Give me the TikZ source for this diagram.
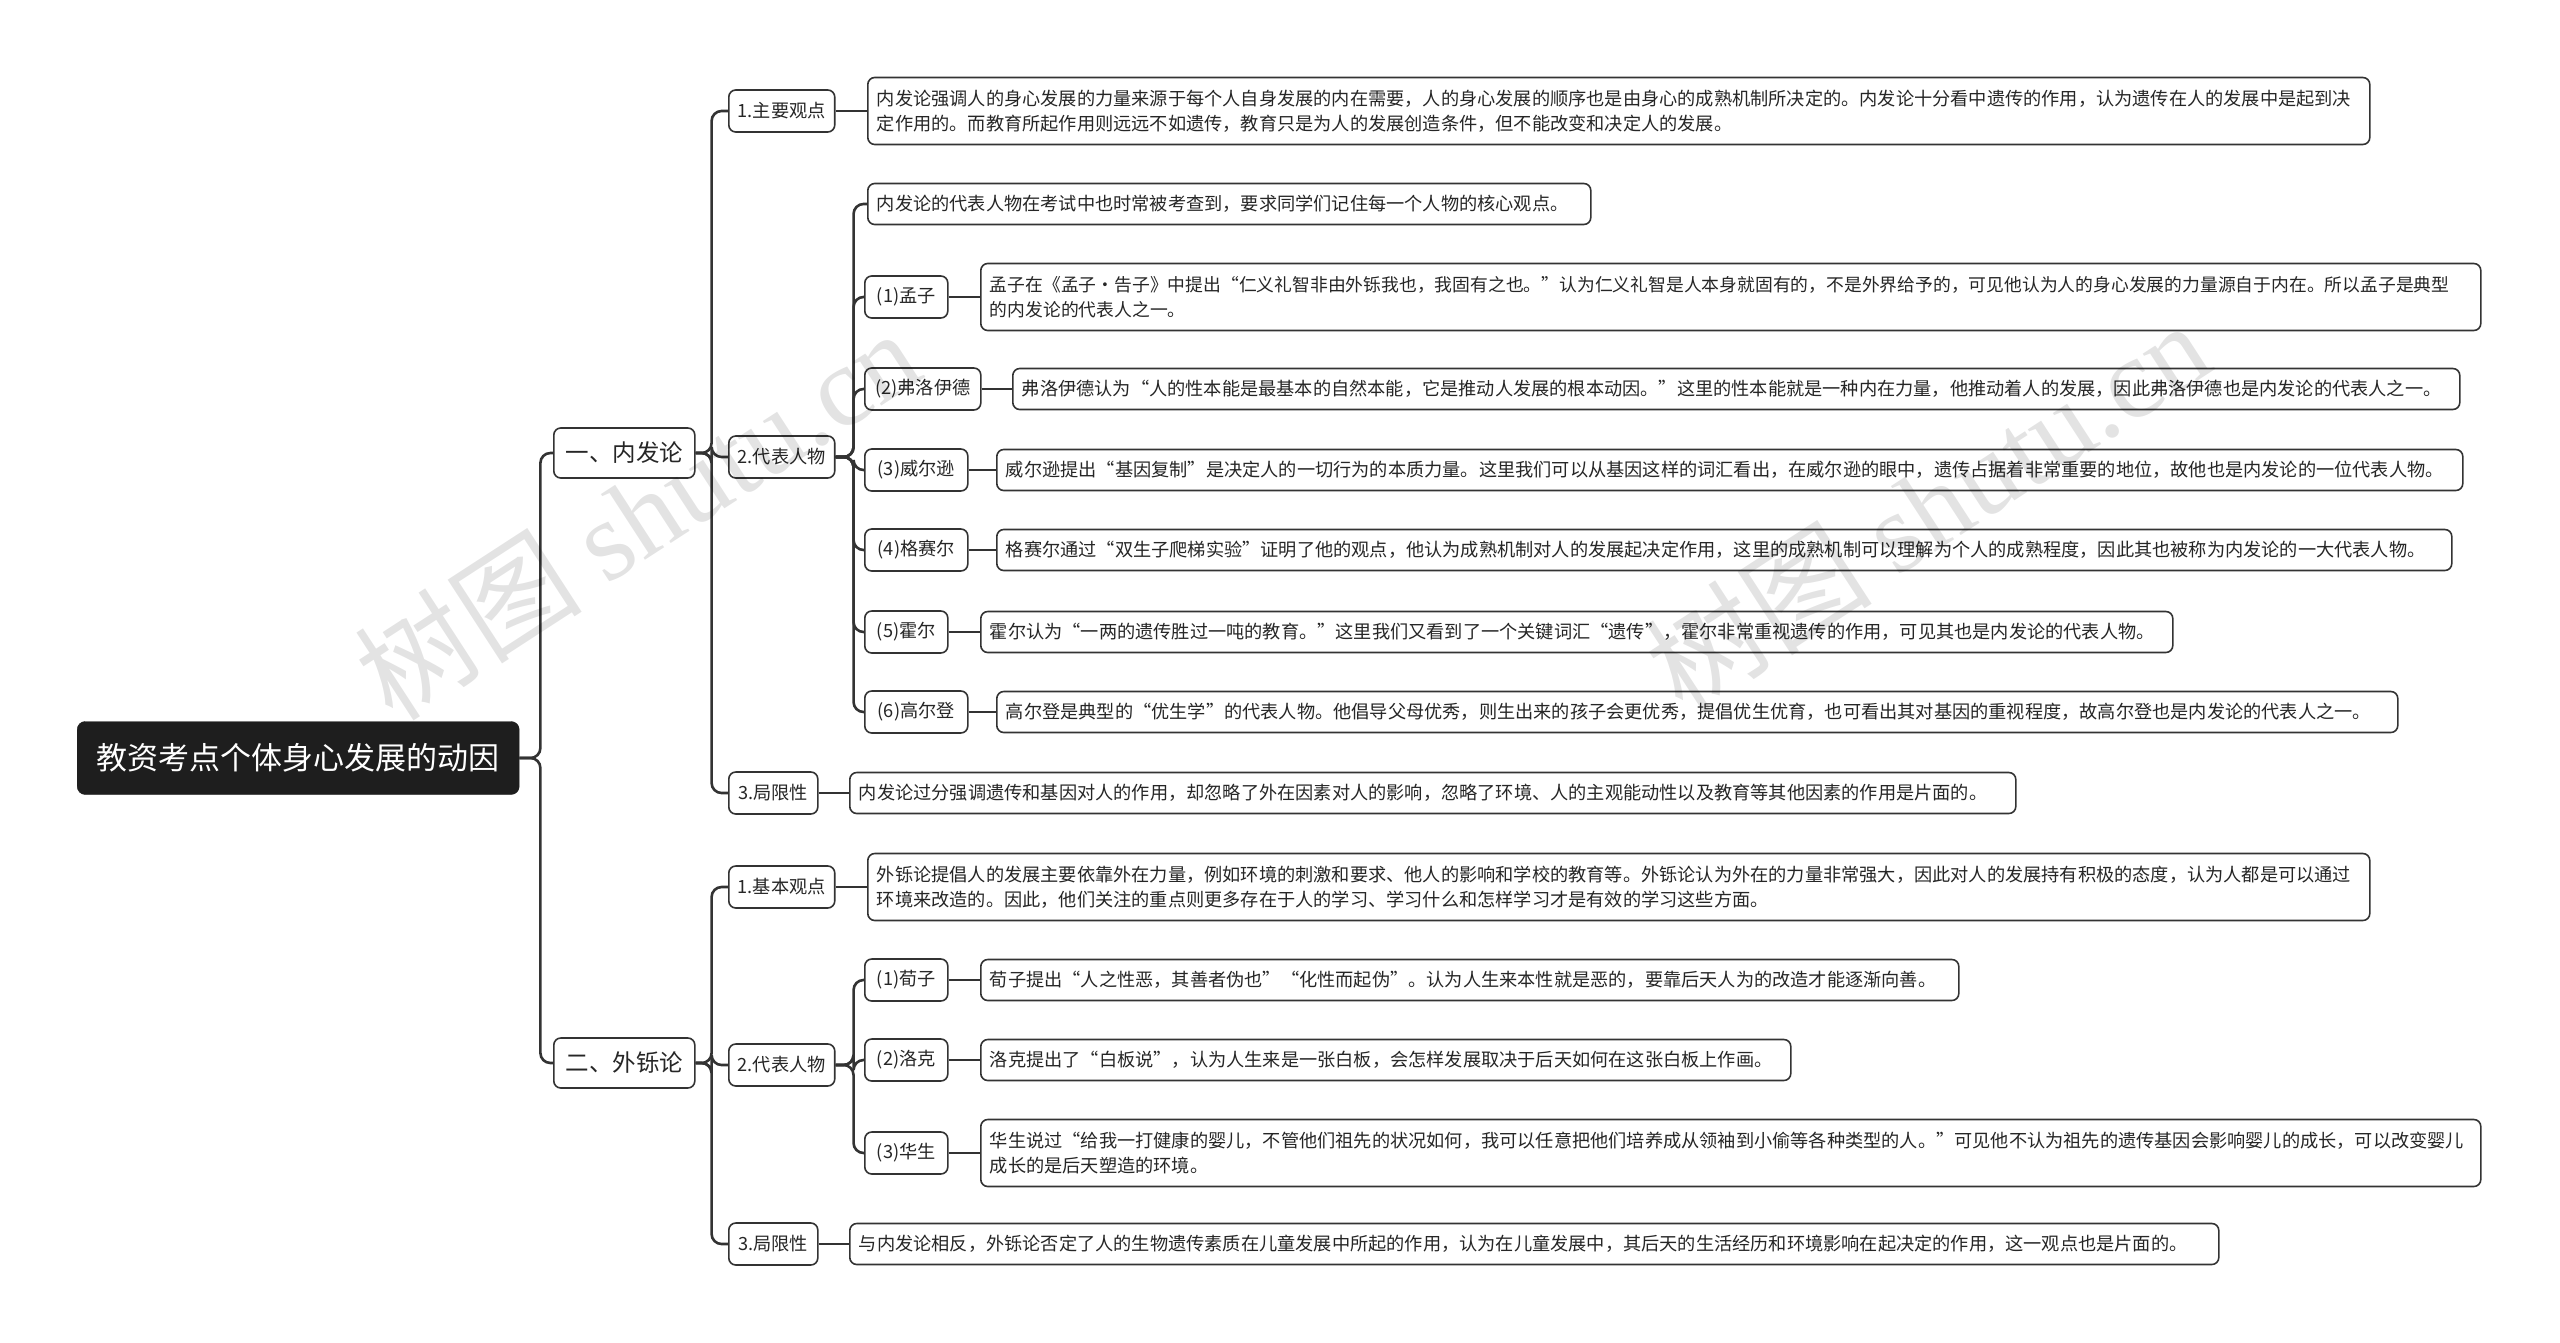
\documentclass[tikz,border=0pt]{standalone}
\usepackage{fontspec}
\setmainfont{Noto Sans CJK SC}
\newfontfamily\wmserif{Liberation Serif}
\definecolor{linec}{HTML}{333333}
\definecolor{rootc}{HTML}{1E1E1E}
\definecolor{txtc}{HTML}{262626}
\tikzset{
  box/.style={draw=linec, line width=1.6pt, rounded corners=7pt, fill=white,
    inner xsep=9pt, inner ysep=0pt, anchor=west, text=txtc,
    font=\fontsize{18.2}{25}\selectfont},
  txtone/.style={box, minimum height=41pt, align=left, text width=#1},
  txttwo/.style={box, minimum height=67pt, align=left, text width=#1},
  lbl/.style={box, minimum height=42pt, minimum width=#1, align=center},
  lvone/.style={box, minimum height=50pt, minimum width=141pt,
    font=\fontsize{23.5}{28}\selectfont},
  rootbox/.style={draw=rootc, fill=rootc, rounded corners=8pt, text=white,
    minimum width=442pt, minimum height=73pt, inner sep=0pt, anchor=west,
    font=\fontsize{31}{36}\selectfont},
  conn/.style={draw=linec, line width=2.6pt, rounded corners=10pt},
  wm/.style={text=black, opacity=0.11, rotate=33, inner sep=0pt,
    font=\fontsize{114}{120}\selectfont},
}
\begin{document}
\begin{tikzpicture}[x=1pt,y=-1pt]
\useasboundingbox (0,0) rectangle (2560,1343);
\fill[white] (0,0) rectangle (2560,1343);

% root and level 1
\node[rootbox] (root) at (77,758) {教资考点个体身心发展的动因};
\node[lvone] (a) at (553,453) {一、内发论};
\node[lvone] (b) at (553,1063) {二、外铄论};

% level 2
\node[lbl=105pt] (a1) at (728,111) {1.主要观点};
\node[lbl=105pt] (a2) at (728,457) {2.代表人物};
\node[lbl=89pt]  (a3) at (728,793) {3.局限性};
\node[lbl=105pt] (b1) at (728,887) {1.基本观点};
\node[lbl=105pt] (b2) at (728,1065) {2.代表人物};
\node[lbl=89pt]  (b3) at (728,1244) {3.局限性};

% level 3 under 内发论
\node[txttwo=1484pt] (ta1) at (867,111) {内发论强调人的身心发展的力量来源于每个人自身发展的内在需要，人的身心发展的顺序也是由身心的成熟机制所决定的。内发论十分看中遗传的作用，认为遗传在人的发展中是起到决\\定作用的。而教育所起作用则远远不如遗传，教育只是为人的发展创造条件，但不能改变和决定人的发展。};
\node[txtone=705pt] (ti) at (867,204) {内发论的代表人物在考试中也时常被考查到，要求同学们记住每一个人物的核心观点。};
\node[lbl=83pt]  (p1) at (864,297) {(1)孟子};
\node[txttwo=1482pt, font=\fontsize{17.8}{25}\selectfont] (t1) at (980,297) {孟子在《孟子·告子》中提出“仁义礼智非由外铄我也，我固有之也。”认为仁义礼智是人本身就固有的，不是外界给予的，可见他认为人的身心发展的力量源自于内在。所以孟子是典型\\的内发论的代表人之一。};
\node[lbl=116pt] (p2) at (864,389) {(2)弗洛伊德};
\node[txtone=1429pt] (t2) at (1012,389) {弗洛伊德认为“人的性本能是最基本的自然本能，它是推动人发展的根本动因。”这里的性本能就是一种内在力量，他推动着人的发展，因此弗洛伊德也是内发论的代表人之一。};
\node[lbl=103pt] (p3) at (864,470) {(3)威尔逊};
\node[txtone=1448pt] (t3) at (996,470) {威尔逊提出“基因复制”是决定人的一切行为的本质力量。这里我们可以从基因这样的词汇看出，在威尔逊的眼中，遗传占据着非常重要的地位，故他也是内发论的一位代表人物。};
\node[lbl=103pt] (p4) at (864,550) {(4)格赛尔};
\node[txtone=1437pt] (t4) at (996,550) {格赛尔通过“双生子爬梯实验”证明了他的观点，他认为成熟机制对人的发展起决定作用，这里的成熟机制可以理解为个人的成熟程度，因此其也被称为内发论的一大代表人物。};
\node[lbl=83pt]  (p5) at (864,632) {(5)霍尔};
\node[txtone=1174pt] (t5) at (980,632) {霍尔认为“一两的遗传胜过一吨的教育。”这里我们又看到了一个关键词汇“遗传”，霍尔非常重视遗传的作用，可见其也是内发论的代表人物。};
\node[lbl=103pt] (p6) at (864,712) {(6)高尔登};
\node[txtone=1383pt] (t6) at (996,712) {高尔登是典型的“优生学”的代表人物。他倡导父母优秀，则生出来的孩子会更优秀，提倡优生优育，也可看出其对基因的重视程度，故高尔登也是内发论的代表人之一。};
\node[txtone=1148pt] (ta3) at (849,793) {内发论过分强调遗传和基因对人的作用，却忽略了外在因素对人的影响，忽略了环境、人的主观能动性以及教育等其他因素的作用是片面的。};

% level 3 under 外铄论
\node[txttwo=1484pt] (tb1) at (867,887) {外铄论提倡人的发展主要依靠外在力量，例如环境的刺激和要求、他人的影响和学校的教育等。外铄论认为外在的力量非常强大，因此对人的发展持有积极的态度，认为人都是可以通过\\环境来改造的。因此，他们关注的重点则更多存在于人的学习、学习什么和怎样学习才是有效的学习这些方面。};
\node[lbl=83pt]  (q1) at (864,980) {(1)荀子};
\node[txtone=960pt] (s1) at (980,980) {荀子提出“人之性恶，其善者伪也”“化性而起伪”。认为人生来本性就是恶的，要靠后天人为的改造才能逐渐向善。};
\node[lbl=83pt]  (q2) at (864,1060) {(2)洛克};
\node[txtone=792pt] (s2) at (980,1060) {洛克提出了“白板说”，认为人生来是一张白板，会怎样发展取决于后天如何在这张白板上作画。};
\node[lbl=83pt]  (q3) at (864,1153) {(3)华生};
\node[txttwo=1482pt] (s3) at (980,1153) {华生说过“给我一打健康的婴儿，不管他们祖先的状况如何，我可以任意把他们培养成从领袖到小偷等各种类型的人。”可见他不认为祖先的遗传基因会影响婴儿的成长，可以改变婴儿\\成长的是后天塑造的环境。};
\node[txtone=1351pt] (tb3) at (849,1244) {与内发论相反，外铄论否定了人的生物遗传素质在儿童发展中所起的作用，认为在儿童发展中，其后天的生活经历和环境影响在起决定的作用，这一观点也是片面的。};

% connectors
\foreach \c in {a,b} \draw[conn] (root.east) -- ++(21,0) |- (\c.west);
\foreach \c in {a1,a2,a3} \draw[conn] (a.east) -- ++(16,0) |- (\c.west);
\foreach \c in {b1,b2,b3} \draw[conn] (b.east) -- ++(16,0) |- (\c.west);
\foreach \c in {ti,p1,p2,p3,p4,p5,p6} \draw[conn] (a2.east) -- ++(18,0) |- (\c.west);
\foreach \c in {q1,q2,q3} \draw[conn] (b2.east) -- ++(18,0) |- (\c.west);
\draw[conn] (a1.east) -- (ta1.west);
\draw[conn] (a3.east) -- (ta3.west);
\draw[conn] (b1.east) -- (tb1.west);
\draw[conn] (b3.east) -- (tb3.west);
\draw[conn] (p1.east) -- (t1.west);
\draw[conn] (p2.east) -- (t2.west);
\draw[conn] (p3.east) -- (t3.west);
\draw[conn] (p4.east) -- (t4.west);
\draw[conn] (p5.east) -- (t5.west);
\draw[conn] (p6.east) -- (t6.west);
\draw[conn] (q1.east) -- (s1.west);
\draw[conn] (q2.east) -- (s2.west);
\draw[conn] (q3.east) -- (s3.west);

% watermarks
\node[wm] (w1) at (637,514) {树图 {\wmserif shutu.cn}};
\node[wm] (w2) at (1927,506) {树图 {\wmserif shutu.cn}};
\end{tikzpicture}
\end{document}
